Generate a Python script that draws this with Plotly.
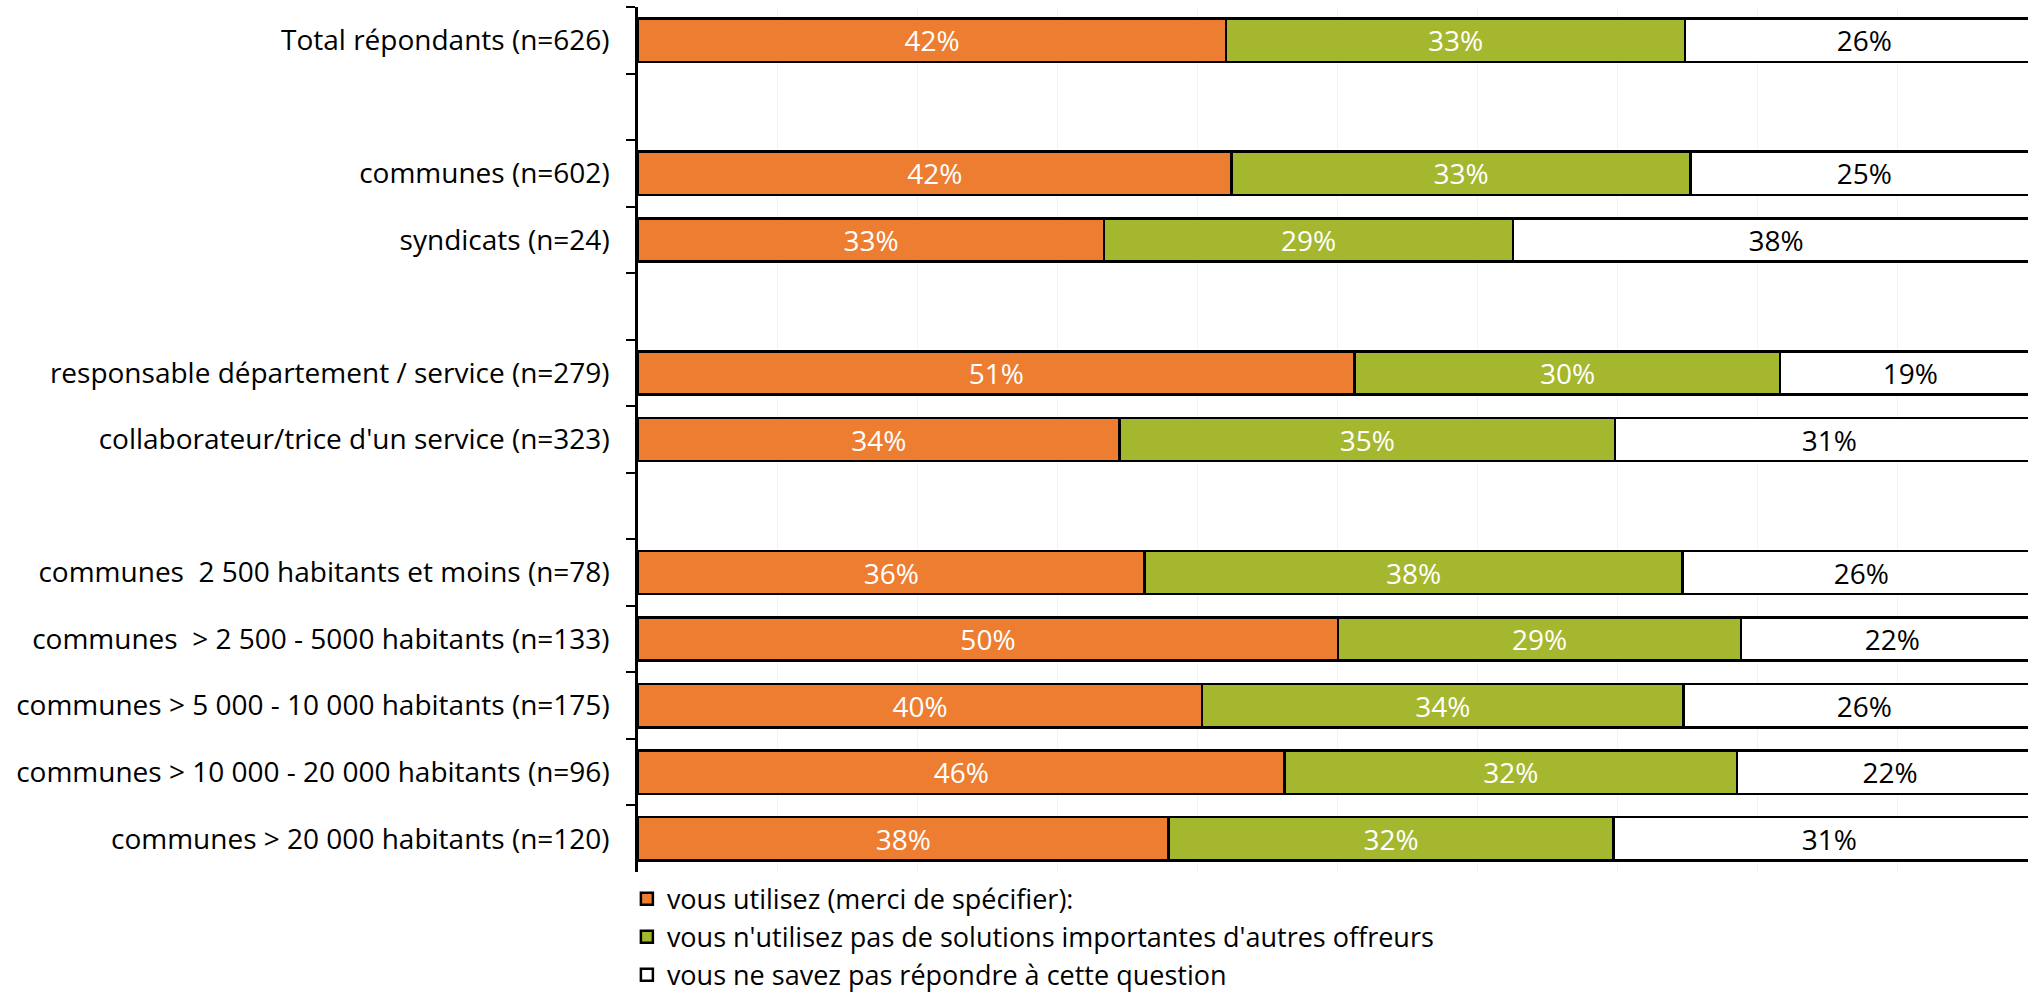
import plotly.graph_objects as go

categories = [
    "Total répondants (n=626)",
    " ",
    "communes (n=602)",
    "syndicats (n=24)",
    "  ",
    "responsable département / service (n=279)",
    "collaborateur/trice d'un service (n=323)",
    "   ",
    "communes  2 500 habitants et moins (n=78)",
    "communes  > 2 500 - 5000 habitants (n=133)",
    "communes > 5 000 - 10 000 habitants (n=175)",
    "communes > 10 000 - 20 000 habitants (n=96)",
    "communes > 20 000 habitants (n=120)",
]

series_names = [
    "vous utilisez (merci de spécifier):",
    "vous n'utilisez pas de solutions importantes d'autres offreurs",
    "vous ne savez pas répondre à cette question",
]

utilisez = [42.0, None, 42.4, 33.3, None, 51.2, 34.4, None, 36.2, 50.0, 40.3, 46.2, 37.9]
n_utilisez_pas = [32.8, None, 32.8, 29.2, None, 30.4, 35.4, None, 38.4, 28.8, 34.4, 32.3, 31.8]
ne_savez_pas = [25.6, None, 24.8, 37.6, None, 18.6, 30.6, None, 25.6, 21.6, 25.8, 21.9, 30.8]

colors = ["#ED7D31", "#A5B72F", "#FFFFFF"]
text_colors = ["#FFFFFF", "#FFFFFF", "#000000"]

FONT = "Open Sans"
FS = 28
LEG_FS = 27

fig = go.Figure()
for i, (name, vals) in enumerate(zip(series_names, [utilisez, n_utilisez_pas, ne_savez_pas])):
    fig.add_trace(go.Bar(
        y=categories,
        x=vals,
        name=name,
        orientation="h",
        marker=dict(color=colors[i], line=dict(color="#000000", width=2.5)),
        texttemplate="%{x:.0f}%",
        textposition="inside",
        insidetextanchor="middle",
        textangle=0,
        textfont=dict(color=text_colors[i], size=FS, family=FONT),
        cliponaxis=True,
    ))

fig.update_layout(
    width=2028,
    height=992,
    barmode="stack",
    bargap=0.35,
    plot_bgcolor="#FFFFFF",
    paper_bgcolor="#FFFFFF",
    margin=dict(l=638, r=0, t=7, b=120, autoexpand=False),
    font=dict(family=FONT, size=FS, color="#000000"),
    uniformtext=dict(minsize=FS, mode="show"),
    showlegend=True,
    legend=dict(
        orientation="v",
        x=-0.008,
        xanchor="left",
        y=-0.003,
        yanchor="top",
        traceorder="normal",
        tracegroupgap=0,
        font=dict(family=FONT, size=LEG_FS, color="#000000"),
        bgcolor="rgba(0,0,0,0)",
    ),
)

fig.update_xaxes(
    range=[0, 99.3],
    showticklabels=False,
    showgrid=True,
    gridcolor="#F3F3F3",
    gridwidth=1,
    dtick=10,
    zeroline=False,
    showline=False,
)

fig.update_yaxes(
    type="category",
    categoryorder="array",
    categoryarray=categories,
    autorange="reversed",
    showline=True,
    linecolor="#000000",
    linewidth=2.5,
    ticks="outside",
    tickson="boundaries",
    ticklen=9,
    tickwidth=2,
    tickcolor="#000000",
    ticklabelstandoff=20,
    showgrid=False,
    tickfont=dict(family=FONT, size=FS, color="#000000"),
)

fig.write_html("out.html")
